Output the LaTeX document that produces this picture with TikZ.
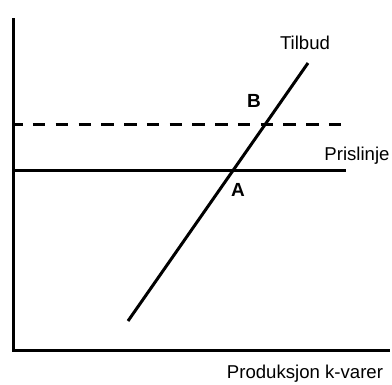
\documentclass[tikz,border=0pt]{standalone}
\usepackage{fontspec}
\setmainfont{Liberation Sans}
\usetikzlibrary{positioning}

\begin{document}
\begin{tikzpicture}[x=1pt, y=-1pt, line width=3pt,
    lbl/.style={font=\fontsize{18.6}{22}\selectfont, inner sep=0pt},
    pt/.style={font=\fontsize{19}{22}\selectfont\bfseries, inner sep=0pt}]
    \useasboundingbox (0,0) rectangle (392,384);

    % Axes
    \draw (13,18) -- (13,350) -- (390,350);

    % Price lines
    \draw[dash pattern=on 12.5pt off 10.27pt, dash phase=2.8pt] (13,124) -- (341,124);
    \draw (13,170) -- (346,170);

    % Supply curve
    \draw (128,321) -- (308,63);

    % Labels
    \node[lbl] (tilbud) at (305,43) {Tilbud};
    \node[lbl] (pris) at (357,156) {Prislinje};
    \node[lbl] (prod) at (305,374) {Produksjon k-varer};
    \node[pt] (B) at (254,101) {B};
    \node[pt] (A) at (238,190) {A};
\end{tikzpicture}
\end{document}
